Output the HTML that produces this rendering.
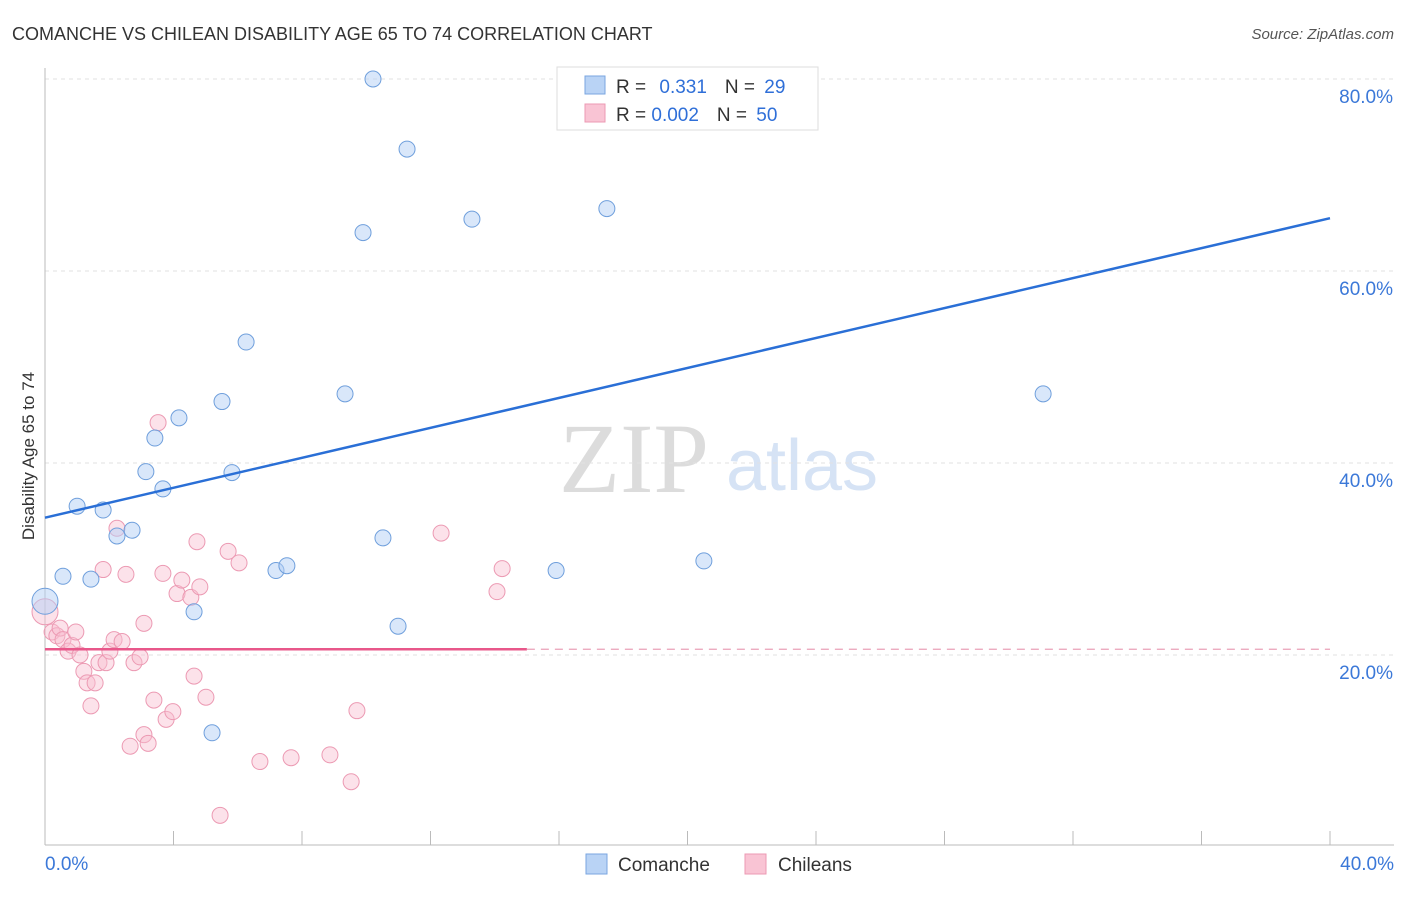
<!DOCTYPE html>
<html><head><meta charset="utf-8"><style>
body{margin:0;background:#fff;font-family:"Liberation Sans",sans-serif;}
svg text{font-family:"Liberation Sans",sans-serif;}
</style></head><body>
<svg id="c" width="1406" height="892" xmlns="http://www.w3.org/2000/svg">
<text x="12" y="40" font-size="18" fill="#333">COMANCHE VS CHILEAN DISABILITY AGE 65 TO 74 CORRELATION CHART</text>
<text x="1394" y="39" font-size="15" fill="#555" font-style="italic" text-anchor="end">Source: ZipAtlas.com</text>
<text x="34" y="456" font-size="17" fill="#333" text-anchor="middle" transform="rotate(-90 34 456)">Disability Age 65 to 74</text>
<g><text x="634" y="492" font-size="100" fill="#dcdcdc" style="font-family:'Liberation Serif',serif" text-anchor="middle">ZIP</text><text x="802" y="490" font-size="72" fill="#d6e3f5" text-anchor="middle">atlas</text></g>
<g id="grid"></g><g id="axes"></g><g id="marks"></g>
<g>
<rect x="557" y="67" width="261" height="63" fill="#fff" stroke="#ddd"/>
<rect x="585" y="76" width="20" height="18" fill="#b9d3f5" stroke="#7aa6e0"/>
<rect x="585" y="104" width="20" height="18" fill="#f9c4d4" stroke="#ec9ab3"/>
<text x="616" y="93" font-size="19" fill="#333">R = <tspan fill="#2f6fd8" dx="8">0.331</tspan><tspan fill="#333" dx="18">N = </tspan><tspan fill="#2f6fd8" dx="4">29</tspan></text>
<text x="616" y="121" font-size="19" fill="#333">R = <tspan fill="#2f6fd8">0.002</tspan><tspan fill="#333" dx="18">N = </tspan><tspan fill="#2f6fd8" dx="4">50</tspan></text>
</g>
<g>
<rect x="586" y="854" width="21" height="20" fill="#b9d3f5" stroke="#7aa6e0"/>
<text x="618" y="871" font-size="19" fill="#333">Comanche</text>
<rect x="745" y="854" width="21" height="20" fill="#f9c4d4" stroke="#ec9ab3"/>
<text x="778" y="871" font-size="19" fill="#333">Chileans</text>
</g>
</svg>
<script>
const blueX=[0,0.56,1.00,1.43,1.81,2.24,2.71,3.14,3.42,3.67,4.17,4.64,5.20,5.51,5.82,6.26,7.19,7.53,9.34,9.90,10.21,10.52,10.99,11.27,13.29,15.91,17.49,20.51,31.07];
const blueY=[25.6,28.2,35.5,27.9,35.1,32.4,33.0,39.1,42.6,37.3,44.7,24.5,11.9,46.4,39.0,52.6,28.8,29.3,47.2,64.0,80.0,32.2,23.0,72.7,65.4,28.8,66.5,29.8,47.2];
const pinkX=[0,.22,.37,.47,.56,.72,.84,.96,1.09,1.21,1.31,1.43,1.56,1.68,1.81,1.90,2.02,2.15,2.24,2.40,2.52,2.65,2.77,2.96,3.08,3.08,3.21,3.39,3.52,3.67,3.77,3.98,4.11,4.26,4.54,4.64,4.73,4.82,5.01,5.45,5.70,6.04,6.69,7.66,8.87,9.53,9.71,12.33,14.07,14.23];
const pinkY=[24.5,22.4,22.0,22.8,21.6,20.4,21.0,22.4,20.0,18.3,17.1,14.7,17.1,19.2,28.9,19.2,20.4,21.6,33.2,21.4,28.4,10.5,19.2,19.8,23.3,11.7,10.8,15.3,44.2,28.5,13.3,14.1,26.4,27.8,26.0,17.8,31.8,27.1,15.6,3.3,30.8,29.6,8.9,9.3,9.6,6.8,14.2,32.7,26.6,29.0];
const blueTrend=[34.3,65.5];
const pinkTrend=[20.6,20.6];
const yTicks=[20,40,60,80];
const xTickVals=[0,4,8,12,16,20,24,28,32,36,40];
const xLabels=["0.0%","40.0%"];
const NS="http://www.w3.org/2000/svg";
const sx=v=>45+v*1285/40, sy=v=>847-v*192/20;
function mk(tag,attrs,parent){const e=document.createElementNS(NS,tag);for(const k in attrs)e.setAttribute(k,attrs[k]);parent.appendChild(e);return e;}
const grid=document.getElementById('grid'),axes=document.getElementById('axes'),marks=document.getElementById('marks');
yTicks.forEach(t=>{
 const l=mk('line',{x1:45,x2:1394,y1:sy(t),y2:sy(t),stroke:'#e2e2e2','stroke-dasharray':'4,4'},grid);
 
 
 const tx=mk('text',{x:1393,y:sy(t)+24,'font-size':19,fill:'#3b78d8','text-anchor':'end'},axes);
 tx.textContent=t.toFixed(1)+'%';
 
 
});
const ax=mk('line',{x1:45,x2:45,y1:68,y2:845,stroke:'#bbb'},axes);


const bx=mk('line',{x1:45,x2:1394,y1:845,y2:845,stroke:'#bbb'},axes);


xTickVals.forEach(t=>{
 const l=mk('line',{x1:sx(t),x2:sx(t),y1:831,y2:845,stroke:'#bbb'},axes);
 
 
});
[[0,'start',45],[40,'end',1394]].forEach((d,i)=>{
 const tx=mk('text',{x:d[2],y:870,'font-size':19,fill:'#3b78d8','text-anchor':d[1]},axes);
 tx.textContent=xLabels[i];
 
 
});
pinkX.forEach((x,i)=>{
 const c=mk('circle',{cx:sx(x),cy:sy(pinkY[i]),r:i==0?13:8,fill:'rgba(249,190,208,0.45)',stroke:'#ec9ab3','stroke-width':1},marks);
 
 
});
blueX.forEach((x,i)=>{
 const c=mk('circle',{cx:sx(x),cy:sy(blueY[i]),r:i==0?13:8,fill:'rgba(180,208,245,0.5)',stroke:'#6f9fdc','stroke-width':1},marks);
 
 
});
const bl=mk('line',{x1:sx(0),y1:sy(blueTrend[0]),x2:sx(40),y2:sy(blueTrend[1]),stroke:'#2a6fd6','stroke-width':2.5},marks);


const pl=mk('line',{x1:sx(0),y1:sy(pinkTrend[0]),x2:sx(15),y2:sy(pinkTrend[0]+(pinkTrend[1]-pinkTrend[0])*15/40),stroke:'#e8578a','stroke-width':2.5},marks);


const pd=mk('line',{x1:sx(15),y1:sy(pinkTrend[0]),x2:sx(40),y2:sy(pinkTrend[1]),stroke:'#eaa0b8','stroke-width':1.2,'stroke-dasharray':'8,6'},marks);


</script>
</body></html>
